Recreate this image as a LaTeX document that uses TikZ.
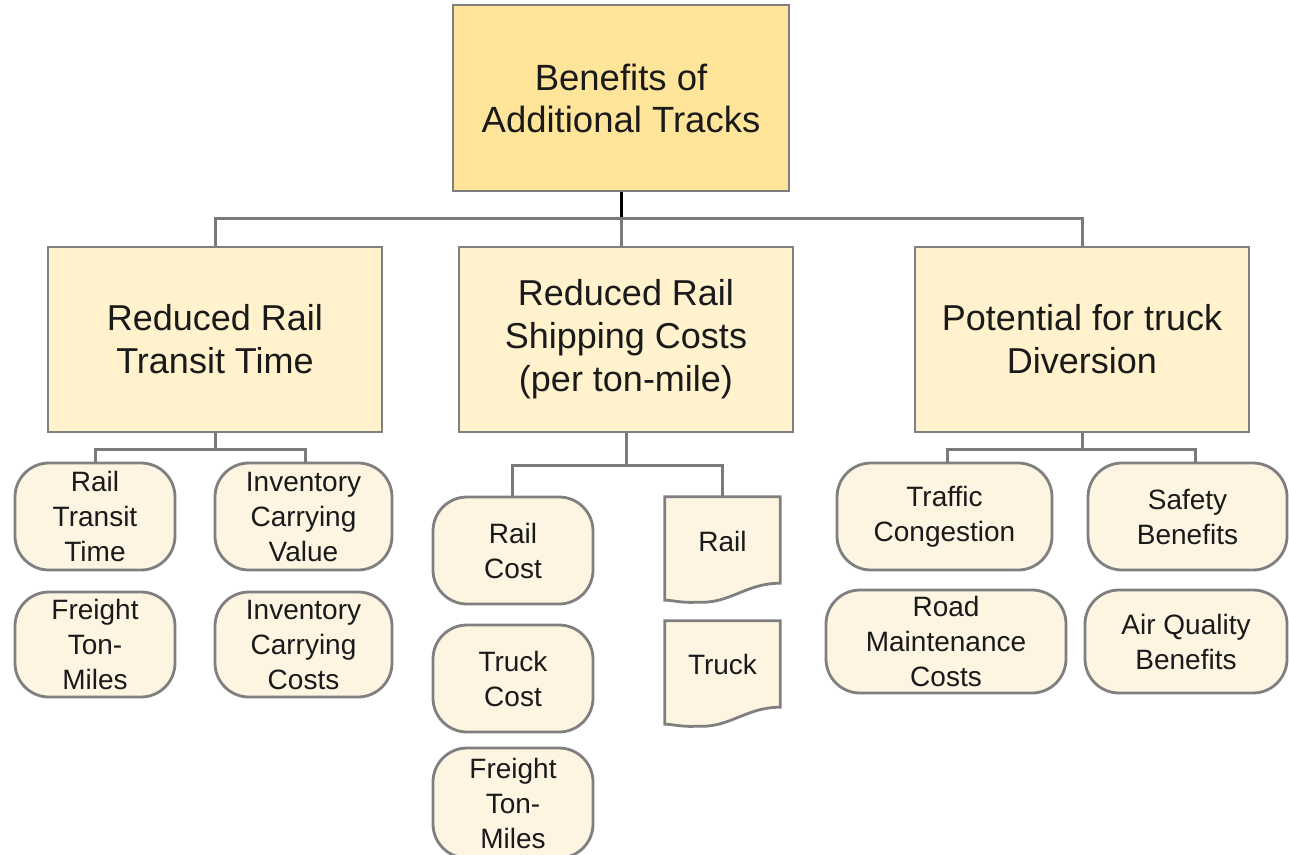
\documentclass[tikz,border=0pt]{standalone}
\usepackage{fontspec}
\setmainfont{Liberation Sans}
\definecolor{edgegray}{HTML}{7F7F7F}
\definecolor{linegray}{HTML}{7A7A7A}
\definecolor{goldfill}{HTML}{FFE599}
\definecolor{creamfill}{HTML}{FFF2CC}
\definecolor{leaffill}{HTML}{FDF5E2}
\definecolor{inkcol}{HTML}{1A1A1A}
\tikzset{
  boxdim/.style 2 args={minimum width=#1pt, minimum height=#2pt},
  rootbox/.style={draw=edgegray, line width=2.8pt, fill=goldfill, inner sep=0pt,
    align=center, text=inkcol, font=\fontsize{36.5}{42}\selectfont},
  mainbox/.style={draw=edgegray, line width=2.8pt, fill=creamfill, inner sep=0pt,
    align=center, text=inkcol, font=\fontsize{36}{43}\selectfont},
  leafbox/.style={draw=edgegray, line width=2.8pt, fill=leaffill, inner sep=0pt,
    rounded corners=34pt, align=center, text=inkcol, font=\fontsize{28}{35}\selectfont},
  docnode/.style={inner sep=0pt, align=center, text=inkcol, font=\fontsize{28}{35}\selectfont},
  docshape/.style={draw=edgegray, line width=2.8pt, fill=leaffill},
  link/.style={draw=linegray, line width=3pt},
  rootlink/.style={draw=black, line width=3pt},
}
\begin{document}
\begin{tikzpicture}[x=1pt, y=-1pt]
\useasboundingbox (0,0) rectangle (1289,854);
\clip (0,0) rectangle (1289,854);

% root and the three main benefits
\node[rootbox, boxdim={336}{186}] (root) at (621,98) {Benefits of\\Additional Tracks};
\node[mainbox, boxdim={334}{185}] (transit) at (215,339.5) {Reduced Rail\\Transit Time};
\node[mainbox, boxdim={334}{185}] (shipping) at (626,339.5) {Reduced Rail\\Shipping Costs\\(per ton-mile)};
\node[mainbox, boxdim={334}{185}] (diversion) at (1082,339.5) {Potential for truck\\Diversion};

% transit time branch
\node[leafbox, boxdim={160}{107}] (rtt) at (95,516.5) {Rail\\Transit\\Time};
\node[leafbox, boxdim={177}{107}] (icv) at (303.5,516.5) {Inventory\\Carrying\\Value};
\node[leafbox, boxdim={160}{105}] (ftma) at (95,644.5) {Freight\\Ton-\\Miles};
\node[leafbox, boxdim={177}{105}] (icc) at (303.5,644.5) {Inventory\\Carrying\\Costs};

% shipping cost branch
\node[leafbox, boxdim={160}{107}] (rcost) at (513,550.5) {Rail\\Cost};
\node[leafbox, boxdim={160}{107}] (tcost) at (513,678.5) {Truck\\Cost};
\node[leafbox, boxdim={160}{110}] (ftmb) at (513,803) {Freight\\Ton-\\Miles};

% document-style boxes with a wavy lower edge
\node[docnode, boxdim={115}{103}] (raildoc) at (722.5,548.5) {};
\node[docnode, boxdim={115}{103}] (truckdoc) at (722.5,672.5) {};
\foreach \d in {raildoc, truckdoc}{
  \path[docshape] (\d.north west) -- (\d.north east) -- ([yshift=17pt]\d.south east)
    .. controls ([xshift=-35pt,yshift=17pt]\d.south east) and ([xshift=-50pt,yshift=-4pt]\d.south east)
    .. ([xshift=32pt,yshift=-2pt]\d.south west)
    .. controls ([xshift=18pt,yshift=-3pt]\d.south west) and ([xshift=8pt]\d.south west)
    .. (\d.south west) -- cycle;
}
\node[docnode] (railtxt) at ([yshift=7pt]raildoc.center) {Rail};
\node[docnode] (trucktxt) at ([yshift=8.5pt]truckdoc.center) {Truck};

% diversion branch
\node[leafbox, boxdim={215}{107}] (traffic) at (944.5,516.5) {Traffic\\Congestion};
\node[leafbox, boxdim={199}{107}] (safety) at (1187.5,516.5) {Safety\\Benefits};
\node[leafbox, boxdim={240}{103}] (road) at (946,641.5) {Road\\Maintenance\\Costs};
\node[leafbox, boxdim={202}{103}] (air) at (1186,641.5) {Air Quality\\Benefits};

% connectors
\coordinate (bus0) at (621,218);
\coordinate (busA) at (215,449);
\coordinate (busB) at (626,465);
\coordinate (busC) at (1082,449);

\draw[rootlink] (root.south) -- (bus0);
\draw[link] (transit.north) |- (bus0) -| (diversion.north);
\draw[link] (bus0) -- (shipping.north -| bus0);

\draw[link] (transit.south) -- (busA);
\draw[link] (rtt.north) |- (busA) -| ([xshift=1.5pt]icv.north);

\draw[link] (shipping.south) -- (busB);
\draw[link] ([xshift=-1pt]rcost.north) |- (busB) -| (raildoc.north);

\draw[link] (diversion.south) -- (busC);
\draw[link] ([xshift=2.5pt]traffic.north) |- (busC) -| ([xshift=7.5pt]safety.north);
\end{tikzpicture}
\end{document}
